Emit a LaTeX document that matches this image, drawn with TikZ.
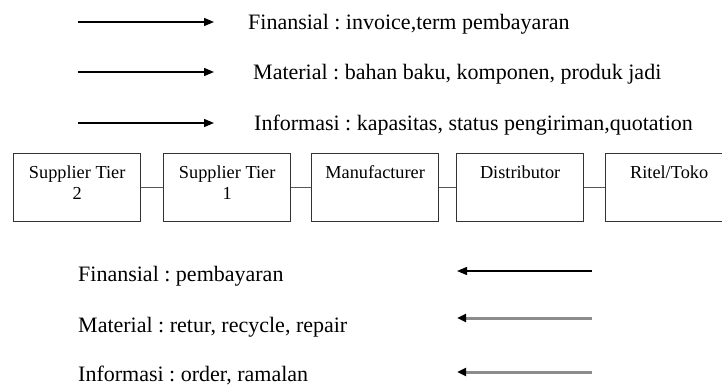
\documentclass[tikz,border=0pt]{standalone}
\usepackage{fontspec}
\setmainfont{Liberation Serif}
\usetikzlibrary{arrows.meta}
\frenchspacing
\begin{document}
\begin{tikzpicture}[x=1pt,y=-1pt,
  box/.style={draw=black!80, line width=1.3pt, minimum width=127pt, minimum height=68pt, inner sep=0pt, anchor=north west},
  boxtext/.style={font=\fontsize{18.3}{21}\selectfont, align=center, inner sep=0pt, anchor=north},
  flowtext/.style={font=\fontsize{22}{26}\selectfont, inner sep=0pt, anchor=base west},
  link/.style={draw=black!65, line width=1.5pt},
  fwd/.style={line width=1.3pt, -{Triangle[length=10pt,width=8pt]}},
  backblack/.style={line width=1.3pt, -{Triangle[length=10pt,width=8pt]}},
  backgray/.style={draw=black!45, line width=3pt, -{Triangle[length=9pt,width=8pt,color=black]}}
]
\useasboundingbox (0,0) rectangle (722,385);
\clip (0,0) rectangle (722,385);

% forward flows
\coordinate (fa1) at (78,22);  \coordinate (fb1) at (214,22);
\coordinate (fa2) at (78,72);  \coordinate (fb2) at (214,72);
\coordinate (fa3) at (78,123); \coordinate (fb3) at (214,123);
\draw[fwd] (fa1) -- (fb1);
\draw[fwd] (fa2) -- (fb2);
\draw[fwd] (fa3) -- (fb3);
\node[flowtext] (ft1) at (248,29.5) {Finansial : invoice,term pembayaran};
\node[flowtext] (ft2) at (253,79.5) {Material : bahan baku, komponen, produk jadi};
\node[flowtext] (ft3) at (254,130.5) {Informasi : kapasitas, status pengiriman,quotation};

% supply chain members
\node[box] (s2)  at (13,153)  {};
\node[box] (s1)  at (163,153) {};
\node[box] (man) at (311,153) {};
\node[box] (dis) at (456,153) {};
\node[box] (ret) at (605,153) {};
\node[boxtext] (ls2)  at ([yshift=-12.5pt]s2.north)  {Supplier Tier\\2};
\node[boxtext] (ls1)  at ([yshift=-12.5pt]s1.north)  {Supplier Tier\\1};
\node[boxtext] (lman) at ([yshift=-12.5pt]man.north) {Manufacturer};
\node[boxtext] (ldis) at ([yshift=-12.5pt]dis.north) {Distributor};
\node[boxtext] (lret) at ([yshift=-12.5pt]ret.north) {Ritel/Toko};
\draw[link] (s2.east) -- (s1.west);
\draw[link] (s1.east) -- (man.west);
\draw[link] (man.east) -- (dis.west);
\draw[link] (dis.east) -- (ret.west);

% backward flows
\node[flowtext] (bt1) at (78,281) {Finansial : pembayaran};
\node[flowtext] (bt2) at (78,332) {Material : retur, recycle, repair};
\node[flowtext] (bt3) at (78,381) {Informasi : order, ramalan};
\coordinate (ba1) at (592,271); \coordinate (bb1) at (457,271);
\coordinate (ba2) at (592,318); \coordinate (bb2) at (457,318);
\coordinate (ba3) at (592,372); \coordinate (bb3) at (457,372);
\draw[backblack] (ba1) -- (bb1);
\draw[backgray] (ba2) -- (bb2);
\draw[backgray] (ba3) -- (bb3);
\end{tikzpicture}
\end{document}
